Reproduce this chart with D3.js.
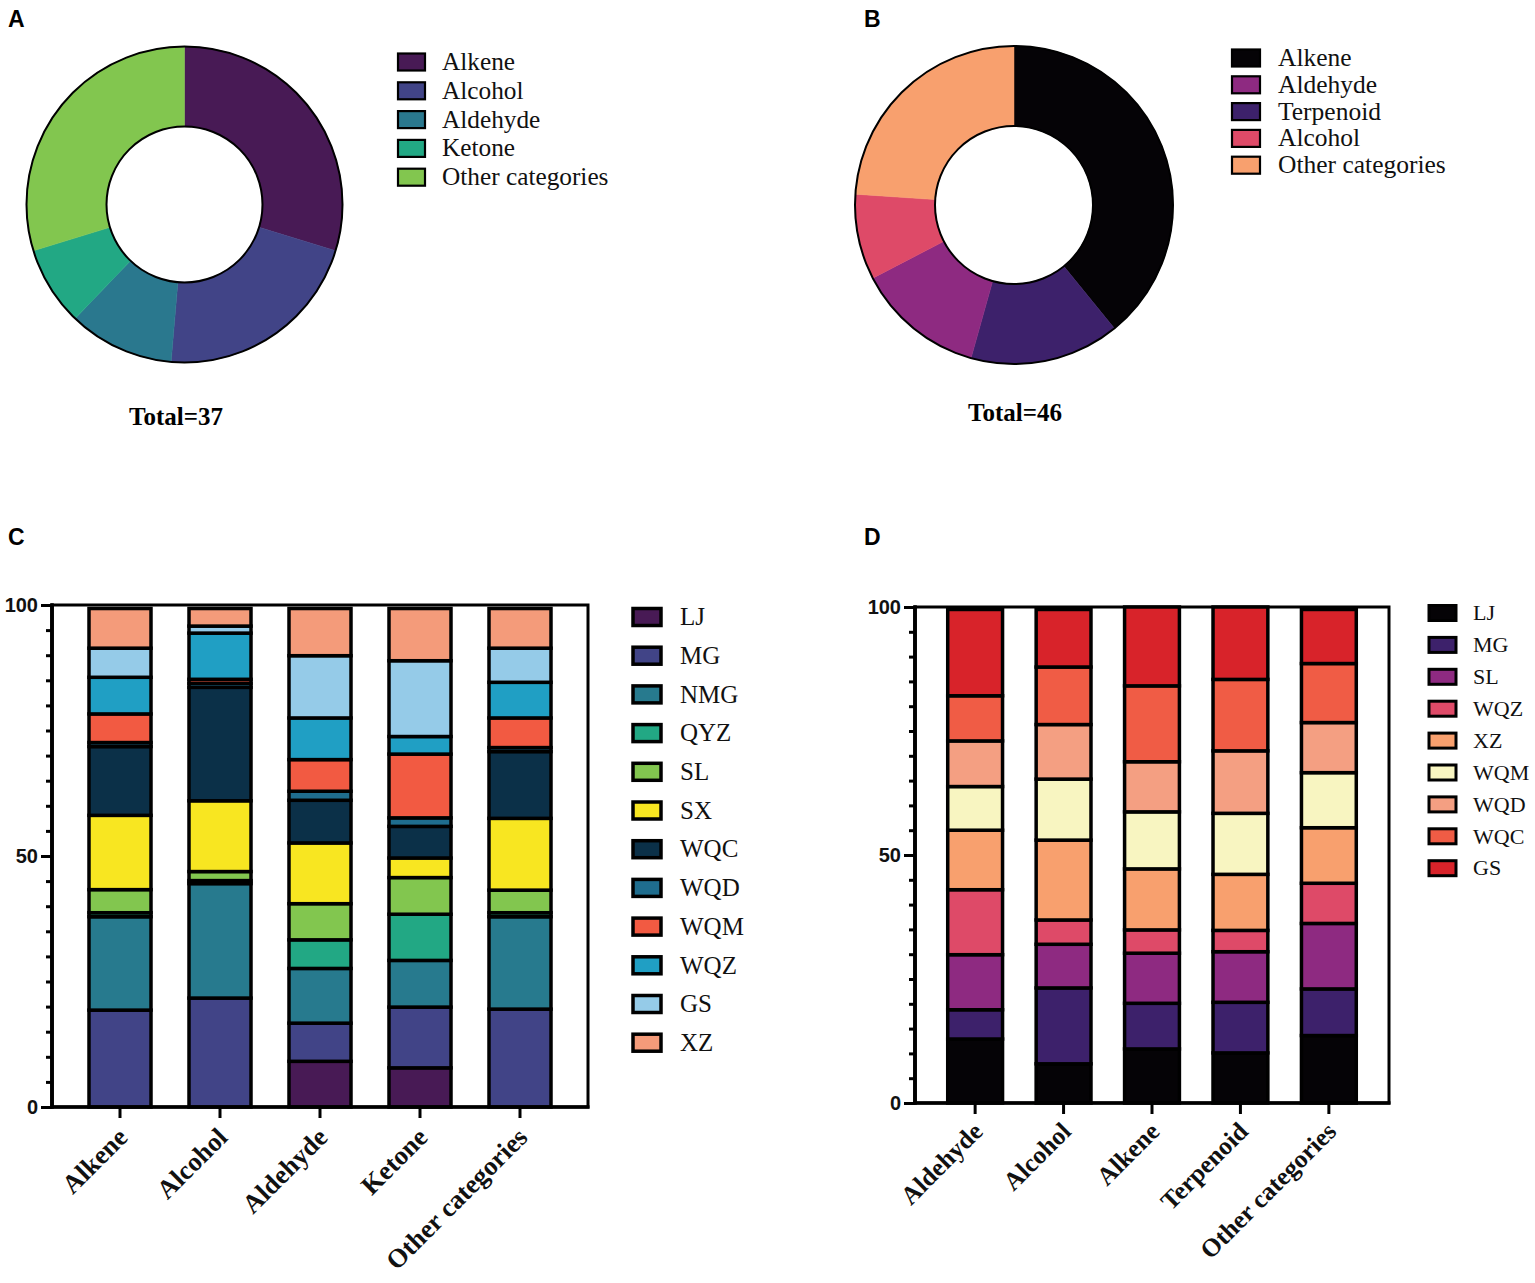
<!DOCTYPE html>
<html>
<head>
<meta charset="utf-8">
<script src="https://cdn.jsdelivr.net/npm/d3@7"></script>
<style>
  body { margin: 0; background: #fff; }
  svg { display: block; }
</style>
</head>
<body>
<svg id="chart" width="1535" height="1283"></svg>
<script>
// ---------------- DATA ----------------
// Panel A donut
const donutACategories = ["Alkene", "Alcohol", "Aldehyde", "Ketone", "Other categories"];
const donutAValues = [11, 8, 4, 3, 11];
const donutAColors = ["#481a55", "#414487", "#2a788e", "#22a884", "#82c64f"];
const donutATotalLabel = "Total=37";

// Panel B donut (legend order) and drawing order of slices
const donutBCategories = ["Alkene", "Aldehyde", "Terpenoid", "Alcohol", "Other categories"];
const donutBValues = [18, 6, 7, 4, 11];
const donutBColors = ["#050306", "#8e2a81", "#3d216b", "#de4a68", "#f8a06e"];
const donutBSliceOrder = ["Alkene", "Terpenoid", "Aldehyde", "Alcohol", "Other categories"];
const donutBTotalLabel = "Total=46";

// Panel C stacked bars (percent)
const barCCategories = ["Alkene", "Alcohol", "Aldehyde", "Ketone", "Other categories"];
const barCSeries = ["LJ", "MG", "NMG", "QYZ", "SL", "SX", "WQC", "WQD", "WQM", "WQZ", "GS", "XZ"];
const barCColors = ["#481a55", "#414487", "#277a8e", "#22a884", "#82c64f", "#f8e621",
                    "#0b3048", "#1f6d8e", "#f25a42", "#209fc4", "#95cbe8", "#f49b7a"];
const barCValues = {
  "LJ":  [0,    0,    9.1,  7.8,  0],
  "MG":  [19.3, 21.7, 7.6,  12.1, 19.5],
  "NMG": [18.6, 22.8, 10.9, 9.3,  18.4],
  "QYZ": [0.8,  0.6,  5.7,  9.2,  0.8],
  "SL":  [4.6,  1.8,  7.2,  7.3,  4.5],
  "SX":  [14.8, 14.1, 12.1, 3.9,  14.3],
  "WQC": [13.7, 22.6, 8.5,  6.3,  13.3],
  "WQD": [0.8,  0.8,  1.8,  1.7,  0.8],
  "WQM": [5.7,  0.8,  6.3,  12.7, 5.9],
  "WQZ": [7.3,  9.2,  8.3,  3.5,  7.1],
  "GS":  [5.8,  1.4,  12.4, 15.1, 6.8],
  "XZ":  [7.9,  3.5,  9.4,  10.4, 7.9]
};

// Panel D stacked bars (percent)
const barDCategories = ["Aldehyde", "Alcohol", "Alkene", "Terpenoid", "Other categories"];
const barDSeries = ["LJ", "MG", "SL", "WQZ", "XZ", "WQM", "WQD", "WQC", "GS"];
const barDColors = ["#050306", "#3d216b", "#8e2a81", "#de4a68", "#f8a06e",
                    "#f8f5c1", "#f49f82", "#f05c45", "#d8232a"];
const barDValues = {
  "LJ":  [12.9, 7.9,  10.9, 10.1, 13.6],
  "MG":  [5.9,  15.3, 9.2,  10.2, 9.4],
  "SL":  [11.1, 8.8,  10.1, 10.2, 13.2],
  "WQZ": [13.1, 4.9,  4.7,  4.3,  8.1],
  "XZ":  [12.0, 16.1, 12.3, 11.3, 11.2],
  "WQM": [8.8,  12.3, 11.5, 12.3, 11.1],
  "WQD": [9.2,  11.0, 10.1, 12.6, 10.1],
  "WQC": [9.1,  11.6, 15.3, 14.4, 11.9],
  "GS":  [17.4, 11.6, 15.9, 14.6, 10.9]
};

const yTickLabels = [0, 50, 100];
const panelLetters = ["A", "B", "C", "D"];

// ---------------- DRAW ----------------
const svg = d3.select("#chart");
const serif = "'Liberation Serif', 'Times New Roman', serif";
const sans = "'Liberation Sans', Arial, sans-serif";

// panel letters
const letterPos = [[8, 27], [864, 27], [8, 545], [864, 545]];
panelLetters.forEach((l, i) => {
  svg.append("text").attr("x", letterPos[i][0]).attr("y", letterPos[i][1])
    .attr("font-family", sans).attr("font-weight", "bold").attr("font-size", 23)
    .text(l);
});

function drawDonut(cfg) {
  const g = svg.append("g").attr("transform", `translate(${cfg.cx},${cfg.cy})`);
  const rows = cfg.order.map(name => {
    const i = cfg.cats.indexOf(name);
    return { name, value: cfg.values[i], color: cfg.colors[i] };
  });
  const pie = d3.pie().sort(null).value(d => d.value);
  const arc = d3.arc().innerRadius(cfg.ri).outerRadius(cfg.ro);
  g.selectAll("path.slice").data(pie(rows)).join("path")
    .attr("class", "slice")
    .attr("d", arc)
    .attr("fill", d => d.data.color)
    .attr("stroke", d => d.data.color)
    .attr("stroke-width", 0.5);
  g.append("circle").attr("r", cfg.ro).attr("fill", "none").attr("stroke", "#000").attr("stroke-width", 2);
  g.append("circle").attr("r", cfg.ri).attr("fill", "none").attr("stroke", "#000").attr("stroke-width", 2);

  // legend
  const lg = svg.append("g");
  cfg.cats.forEach((c, i) => {
    const cy = cfg.legY0 + i * cfg.legStep;
    lg.append("rect").attr("x", cfg.legX).attr("y", cy - cfg.boxH / 2)
      .attr("width", cfg.boxW).attr("height", cfg.boxH)
      .attr("fill", cfg.colors[i]).attr("stroke", "#000").attr("stroke-width", 2.2);
    lg.append("text").attr("x", cfg.textX).attr("y", cy + 8)
      .attr("font-family", serif).attr("font-size", cfg.fontSize).attr("fill", "#111")
      .text(c);
  });
  svg.append("text").attr("x", cfg.totalX).attr("y", cfg.totalY)
    .attr("text-anchor", "middle").attr("font-family", serif).attr("font-weight", "bold")
    .attr("font-size", 25).text(cfg.total);
}

drawDonut({
  cx: 184.5, cy: 204.5, ro: 158, ri: 78,
  cats: donutACategories, values: donutAValues, colors: donutAColors, order: donutACategories,
  legX: 398, legY0: 62, legStep: 28.8, boxW: 27, boxH: 17, textX: 442, fontSize: 25.3,
  total: donutATotalLabel, totalX: 176, totalY: 425
});
drawDonut({
  cx: 1014, cy: 205, ro: 159, ri: 79,
  cats: donutBCategories, values: donutBValues, colors: donutBColors, order: donutBSliceOrder,
  legX: 1232, legY0: 58, legStep: 26.8, boxW: 28, boxH: 17, textX: 1278, fontSize: 25.5,
  total: donutBTotalLabel, totalX: 1015, totalY: 421
});

function drawStack(cfg) {
  const g = svg.append("g");
  const x = d3.scaleBand().domain(cfg.cats).range([cfg.x0, cfg.x1])
    .paddingInner(0.38).paddingOuter(0.37);
  const y = d3.scaleLinear().domain([0, 100]).range([cfg.y0, cfg.y1]);

  const table = cfg.cats.map((c, j) => {
    const row = { cat: c };
    cfg.series.forEach(s => { row[s] = cfg.values[s][j]; });
    return row;
  });
  const stacked = d3.stack().keys(cfg.series)(table);

  // frame (top and right)
  g.append("rect").attr("x", cfg.x0).attr("y", cfg.y1)
    .attr("width", cfg.x1 - cfg.x0).attr("height", cfg.y0 - cfg.y1)
    .attr("fill", "none").attr("stroke", "#000").attr("stroke-width", 3);

  stacked.forEach((layer, k) => {
    g.append("g").selectAll("rect").data(layer.filter(d => d[1] - d[0] > 0)).join("rect")
      .attr("x", d => x(d.data.cat))
      .attr("width", x.bandwidth())
      .attr("y", d => y(d[1]))
      .attr("height", d => y(d[0]) - y(d[1]))
      .attr("fill", cfg.colors[k])
      .attr("stroke", "#000")
      .attr("stroke-width", 3.5);
  });

  // y axis with minor ticks
  const minor = d3.range(0, 101, 5).filter(v => yTickLabels.indexOf(v) < 0);
  const yMinor = g.append("g").attr("transform", `translate(${cfg.x0},0)`)
    .call(d3.axisLeft(y).tickValues(minor).tickSize(6).tickFormat(""));
  const yAxis = g.append("g").attr("transform", `translate(${cfg.x0},0)`)
    .call(d3.axisLeft(y).tickValues(yTickLabels).tickSize(11).tickPadding(3));
  [yMinor, yAxis].forEach(a => {
    a.select(".domain").attr("stroke-width", 3.5).attr("d", `M0,${cfg.y0 + 1.5}V${cfg.y1 - 1.5}`);
    a.selectAll(".tick line").attr("stroke-width", 3);
  });
  yAxis.selectAll("text").attr("font-family", sans).attr("font-weight", "bold")
    .attr("font-size", 20).attr("fill", "#111");

  // x axis
  const xAxis = g.append("g").attr("transform", `translate(0,${cfg.y0})`)
    .call(d3.axisBottom(x).tickSize(11).tickFormat(""));
  xAxis.select(".domain").attr("stroke-width", 3.5).attr("d", `M${cfg.x0 - 1.5},0H${cfg.x1 + 1.5}`);
  xAxis.selectAll(".tick line").attr("stroke-width", 3);

  g.append("g").selectAll("text").data(cfg.cats).join("text")
    .attr("transform", d => `translate(${x(d) + x.bandwidth() / 2 + 9},${cfg.y0 + cfg.labOff}) rotate(-45)`)
    .attr("text-anchor", "end")
    .attr("font-family", serif).attr("font-weight", "bold").attr("font-size", cfg.labSize)
    .attr("fill", "#111")
    .text(d => d);

  // legend
  const lg = svg.append("g");
  cfg.series.forEach((s, i) => {
    const cy = cfg.legY0 + i * cfg.legStep;
    lg.append("rect").attr("x", cfg.legX).attr("y", cy - cfg.boxH / 2)
      .attr("width", cfg.boxW).attr("height", cfg.boxH)
      .attr("fill", cfg.colors[i]).attr("stroke", "#000").attr("stroke-width", cfg.boxStroke);
    lg.append("text").attr("x", cfg.textX).attr("y", cy + cfg.fontSize * 0.33)
      .attr("font-family", serif).attr("font-size", cfg.fontSize).attr("fill", "#111")
      .text(s);
  });
}

drawStack({
  cats: barCCategories, series: barCSeries, values: barCValues, colors: barCColors,
  x0: 52, x1: 588, y0: 1107, y1: 605, labOff: 32, labSize: 26.5,
  legX: 633, legY0: 617, legStep: 38.7, boxW: 28, boxH: 17, boxStroke: 3.5, textX: 680, fontSize: 25
});
drawStack({
  cats: barDCategories, series: barDSeries, values: barDValues, colors: barDColors,
  x0: 915, x1: 1389, y0: 1103, y1: 607, labOff: 30, labSize: 25.5,
  legX: 1429, legY0: 613, legStep: 31.9, boxW: 27, boxH: 15, boxStroke: 3, textX: 1473, fontSize: 22
});
</script>
</body>
</html>
